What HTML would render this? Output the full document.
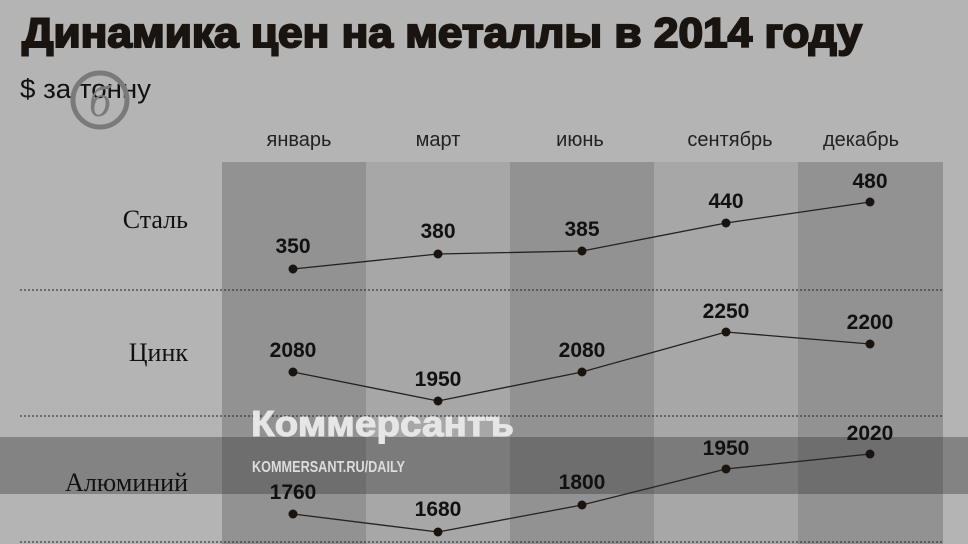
<!DOCTYPE html>
<html><head><meta charset="utf-8"><style>
body{margin:0;width:968px;height:544px;overflow:hidden;background:#b4b4b4}
</style></head><body>
<svg width="968" height="544" viewBox="0 0 968 544" xmlns="http://www.w3.org/2000/svg" style="display:block">
<rect width="968" height="544" fill="#b4b4b4"/>
<rect x="222" y="162" width="144" height="382" fill="#929292"/>
<rect x="366" y="162" width="144" height="382" fill="#a7a7a7"/>
<rect x="510" y="162" width="144" height="382" fill="#929292"/>
<rect x="654" y="162" width="144" height="382" fill="#a7a7a7"/>
<rect x="798" y="162" width="145" height="382" fill="#929292"/>
<rect x="0" y="437" width="968" height="57" fill="#3a3a3a" fill-opacity="0.4"/>
<g stroke="#222" stroke-width="1" stroke-dasharray="2,2">
<line x1="20" y1="290" x2="943" y2="290"/><line x1="20" y1="416" x2="943" y2="416"/><line x1="20" y1="542" x2="943" y2="542"/>
</g>
<text x="22" y="47" font-family="Liberation Sans, sans-serif" font-weight="bold" font-size="42" fill="#1a1410" stroke="#1a1410" stroke-width="2" textLength="840" lengthAdjust="spacingAndGlyphs">Динамика цен на металлы в 2014 году</text>
<text x="20" y="98" font-family="Liberation Sans, sans-serif" font-size="27" fill="#111" textLength="131" lengthAdjust="spacingAndGlyphs">$ за тонну</text>
<circle cx="100" cy="100" r="27" fill="none" stroke="#7a7a7a" stroke-width="5"/>
<text x="100" y="116" text-anchor="middle" font-family="Liberation Serif, serif" font-style="italic" font-size="44" fill="#7a7a7a">б</text>
<g font-family="Liberation Sans, sans-serif" font-size="20" fill="#222" text-anchor="middle">
<text x="299" y="146">январь</text><text x="438" y="146">март</text><text x="580" y="146">июнь</text><text x="730" y="146">сентябрь</text><text x="861" y="146">декабрь</text>
</g>
<g font-family="Liberation Serif, serif" font-size="26" fill="#111" text-anchor="end">
<text x="188" y="228">Сталь</text><text x="188" y="361">Цинк</text><text x="188" y="491">Алюминий</text>
</g>
<g fill="none" stroke="#222" stroke-width="1.3">
<polyline points="293,269 438,254 582,251 726,223 870,202"/>
<polyline points="293,372 438,401 582,372 726,332 870,344"/>
<polyline points="293,514 438,532 582,505 726,469 870,454"/>
</g>
<g fill="#1a1410">
<circle cx="293" cy="269" r="4.5"/><circle cx="438" cy="254" r="4.5"/><circle cx="582" cy="251" r="4.5"/><circle cx="726" cy="223" r="4.5"/><circle cx="870" cy="202" r="4.5"/>
<circle cx="293" cy="372" r="4.5"/><circle cx="438" cy="401" r="4.5"/><circle cx="582" cy="372" r="4.5"/><circle cx="726" cy="332" r="4.5"/><circle cx="870" cy="344" r="4.5"/>
<circle cx="293" cy="514" r="4.5"/><circle cx="438" cy="532" r="4.5"/><circle cx="582" cy="505" r="4.5"/><circle cx="726" cy="469" r="4.5"/><circle cx="870" cy="454" r="4.5"/>
</g>
<g font-family="Liberation Sans, sans-serif" font-weight="bold" font-size="21" fill="#111" text-anchor="middle">
<text x="293" y="253">350</text><text x="438" y="238">380</text><text x="582" y="236">385</text><text x="726" y="208">440</text><text x="870" y="188">480</text>
<text x="293" y="357">2080</text><text x="438" y="386">1950</text><text x="582" y="357">2080</text><text x="726" y="318">2250</text><text x="870" y="329">2200</text>
<text x="293" y="499">1760</text><text x="438" y="516">1680</text><text x="582" y="489">1800</text><text x="726" y="455">1950</text><text x="870" y="440">2020</text>
</g>
<text x="251" y="436" font-family="Liberation Sans, sans-serif" font-weight="bold" font-size="36" fill="#e6e6e6" stroke="#e6e6e6" stroke-width="1" textLength="263" lengthAdjust="spacingAndGlyphs">Коммерсантъ</text>
<text x="252" y="472" font-family="Liberation Sans, sans-serif" font-weight="bold" font-size="16" fill="#dcdcdc" textLength="153" lengthAdjust="spacingAndGlyphs">KOMMERSANT.RU/DAILY</text>
</svg>
</body></html>
